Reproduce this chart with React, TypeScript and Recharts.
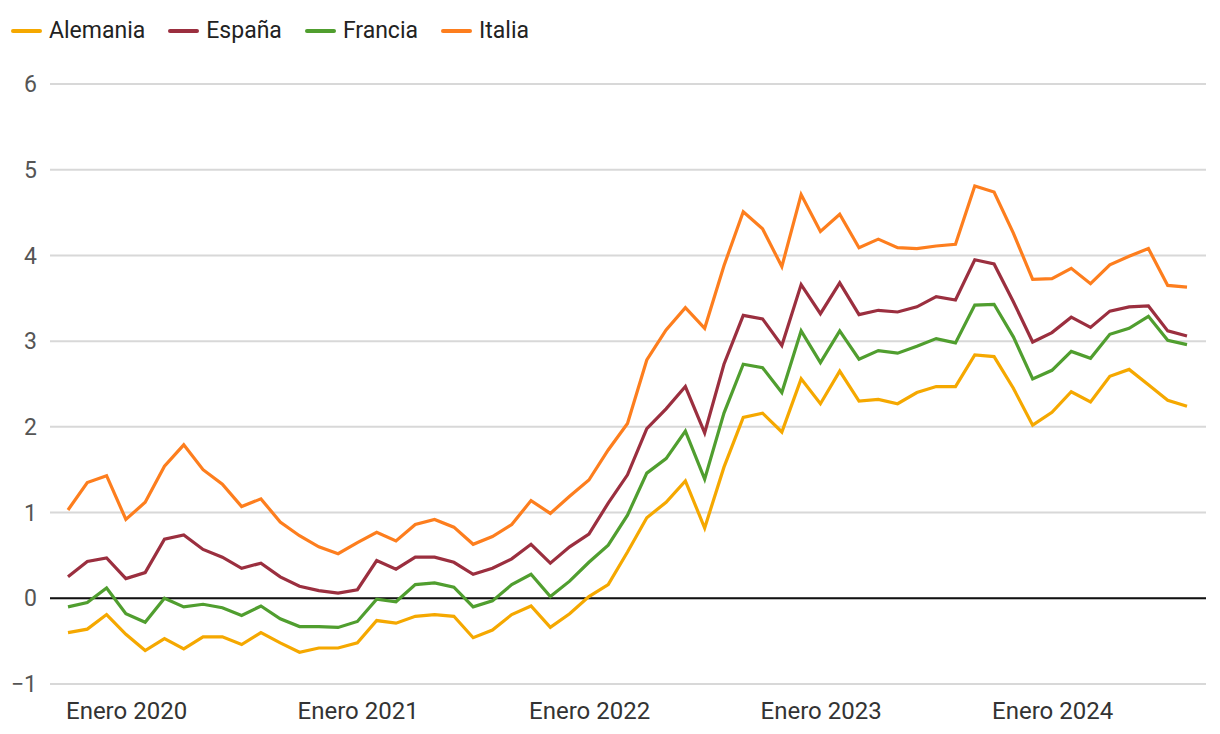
import { LineChart, Line, XAxis, YAxis, CartesianGrid, ReferenceLine } from 'recharts';

// monthly, Jan 2020 .. Nov 2024
const months = [
  '2020-01', '2020-02', '2020-03', '2020-04', '2020-05', '2020-06', '2020-07', '2020-08', '2020-09', '2020-10', '2020-11', '2020-12',
  '2021-01', '2021-02', '2021-03', '2021-04', '2021-05', '2021-06', '2021-07', '2021-08', '2021-09', '2021-10', '2021-11', '2021-12',
  '2022-01', '2022-02', '2022-03', '2022-04', '2022-05', '2022-06', '2022-07', '2022-08', '2022-09', '2022-10', '2022-11', '2022-12',
  '2023-01', '2023-02', '2023-03', '2023-04', '2023-05', '2023-06', '2023-07', '2023-08', '2023-09', '2023-10', '2023-11', '2023-12',
  '2024-01', '2024-02', '2024-03', '2024-04', '2024-05', '2024-06', '2024-07', '2024-08', '2024-09', '2024-10', '2024-11',
];

const alemania = [
  -0.40, -0.36, -0.19, -0.42, -0.61, -0.47, -0.59, -0.45, -0.45, -0.54, -0.40, -0.52,
  -0.63, -0.58, -0.58, -0.52, -0.26, -0.29, -0.21, -0.19, -0.21, -0.46, -0.37, -0.19,
  -0.09, -0.34, -0.18, 0.02, 0.16, 0.54, 0.94, 1.12, 1.37, 0.82, 1.53, 2.11,
  2.16, 1.94, 2.56, 2.27, 2.65, 2.30, 2.32, 2.27, 2.40, 2.47, 2.47, 2.84,
  2.82, 2.45, 2.02, 2.17, 2.41, 2.29, 2.59, 2.67, 2.49, 2.31, 2.24,
];

const espana = [
  0.25, 0.43, 0.47, 0.23, 0.30, 0.69, 0.74, 0.57, 0.48, 0.35, 0.41, 0.25,
  0.14, 0.09, 0.06, 0.10, 0.44, 0.34, 0.48, 0.48, 0.42, 0.28, 0.35, 0.46,
  0.63, 0.41, 0.60, 0.75, 1.11, 1.44, 1.98, 2.21, 2.47, 1.93, 2.73, 3.30,
  3.26, 2.95, 3.66, 3.32, 3.68, 3.31, 3.36, 3.34, 3.40, 3.52, 3.48, 3.95,
  3.90, 3.46, 2.99, 3.10, 3.28, 3.16, 3.35, 3.40, 3.41, 3.12, 3.06,
];

const francia = [
  -0.10, -0.05, 0.12, -0.18, -0.28, 0.00, -0.10, -0.07, -0.11, -0.20, -0.09, -0.24,
  -0.33, -0.33, -0.34, -0.27, -0.01, -0.04, 0.16, 0.18, 0.13, -0.10, -0.03, 0.16,
  0.28, 0.02, 0.20, 0.42, 0.62, 0.97, 1.46, 1.63, 1.95, 1.39, 2.16, 2.73,
  2.69, 2.40, 3.12, 2.75, 3.12, 2.79, 2.89, 2.86, 2.94, 3.03, 2.98, 3.42,
  3.43, 3.05, 2.56, 2.66, 2.88, 2.80, 3.08, 3.15, 3.29, 3.01, 2.96,
];

const italia = [
  1.03, 1.35, 1.43, 0.92, 1.12, 1.54, 1.79, 1.50, 1.33, 1.07, 1.16, 0.89,
  0.73, 0.60, 0.52, 0.65, 0.77, 0.67, 0.86, 0.92, 0.83, 0.63, 0.72, 0.86,
  1.14, 0.99, 1.19, 1.38, 1.73, 2.04, 2.78, 3.13, 3.39, 3.15, 3.88, 4.51,
  4.31, 3.87, 4.71, 4.28, 4.48, 4.09, 4.19, 4.09, 4.08, 4.11, 4.13, 4.81,
  4.74, 4.26, 3.72, 3.73, 3.85, 3.67, 3.89, 3.99, 4.08, 3.65, 3.63,
];

const xTicks = ['2020-01', '2021-01', '2022-01', '2023-01', '2024-01'];
const xTickLabels = ['Enero 2020', 'Enero 2021', 'Enero 2022', 'Enero 2023', 'Enero 2024'];
const yTicks = [-1, 0, 1, 2, 3, 4, 5, 6];

const series = [
  { key: 'alemania', name: 'Alemania', color: '#f5a800' },
  { key: 'espana', name: 'España', color: '#9b2f3f' },
  { key: 'francia', name: 'Francia', color: '#509e2f' },
  { key: 'italia', name: 'Italia', color: '#fd7e1e' },
];

const data = months.map((m, i) => ({
  month: m,
  alemania: alemania[i],
  espana: espana[i],
  francia: francia[i],
  italia: italia[i],
}));

const FONT = 'Roboto, "Noto Sans", sans-serif';

function XTick(props: any) {
  const { x, y, payload } = props;
  const idx = xTicks.indexOf(payload.value);
  return (
    <text x={x - 2} y={y} dy={27} textAnchor="start" fill="#333" fontSize={24} fontFamily={FONT}>
      {idx >= 0 ? xTickLabels[idx] : ''}
    </text>
  );
}

export default function App() {
  return (
    <div style={{ position: 'absolute', left: 0, top: 0, width: 1220, height: 734, background: '#fff', fontFamily: FONT }}>
      <div style={{ position: 'absolute', left: 11, top: 16, height: 30, display: 'flex', alignItems: 'center' }}>
        {series.map((s) => (
          <div key={s.key} style={{ display: 'flex', alignItems: 'center', marginRight: 23 }}>
            <div style={{ width: 31, height: 4, borderRadius: 2, background: s.color, marginRight: 7 }} />
            <span style={{ fontSize: 23, color: '#222', lineHeight: '30px' }}>{s.name}</span>
          </div>
        ))}
      </div>
      <LineChart width={1220} height={734} data={data} margin={{ top: 84, right: 14, bottom: 20, left: 0 }}>
        <CartesianGrid vertical={false} stroke="#d8d8d8" strokeWidth={2} />
        <XAxis
          dataKey="month"
          ticks={xTicks}
          interval={0}
          tick={<XTick />}
          tickLine={false}
          axisLine={false}
          height={30}
          padding={{ left: 18, right: 19 }}
        />
        <YAxis
          domain={[-1, 6]}
          ticks={yTicks}
          width={50}
          tickLine={false}
          axisLine={false}
          tickSize={0}
          tickMargin={13}
          tickFormatter={(v: number) => String(v).replace('-', '\u2212')}
          tick={{ fill: '#555', fontSize: 23, fontFamily: FONT }}
        />
        <ReferenceLine y={0} stroke="#111" strokeWidth={2} />
        {series.map((s) => (
          <Line
            key={s.key}
            type="linear"
            dataKey={s.key}
            name={s.name}
            stroke={s.color}
            strokeWidth={3.2}
            dot={false}
            activeDot={false}
            isAnimationActive={false}
          />
        ))}
      </LineChart>
    </div>
  );
}
